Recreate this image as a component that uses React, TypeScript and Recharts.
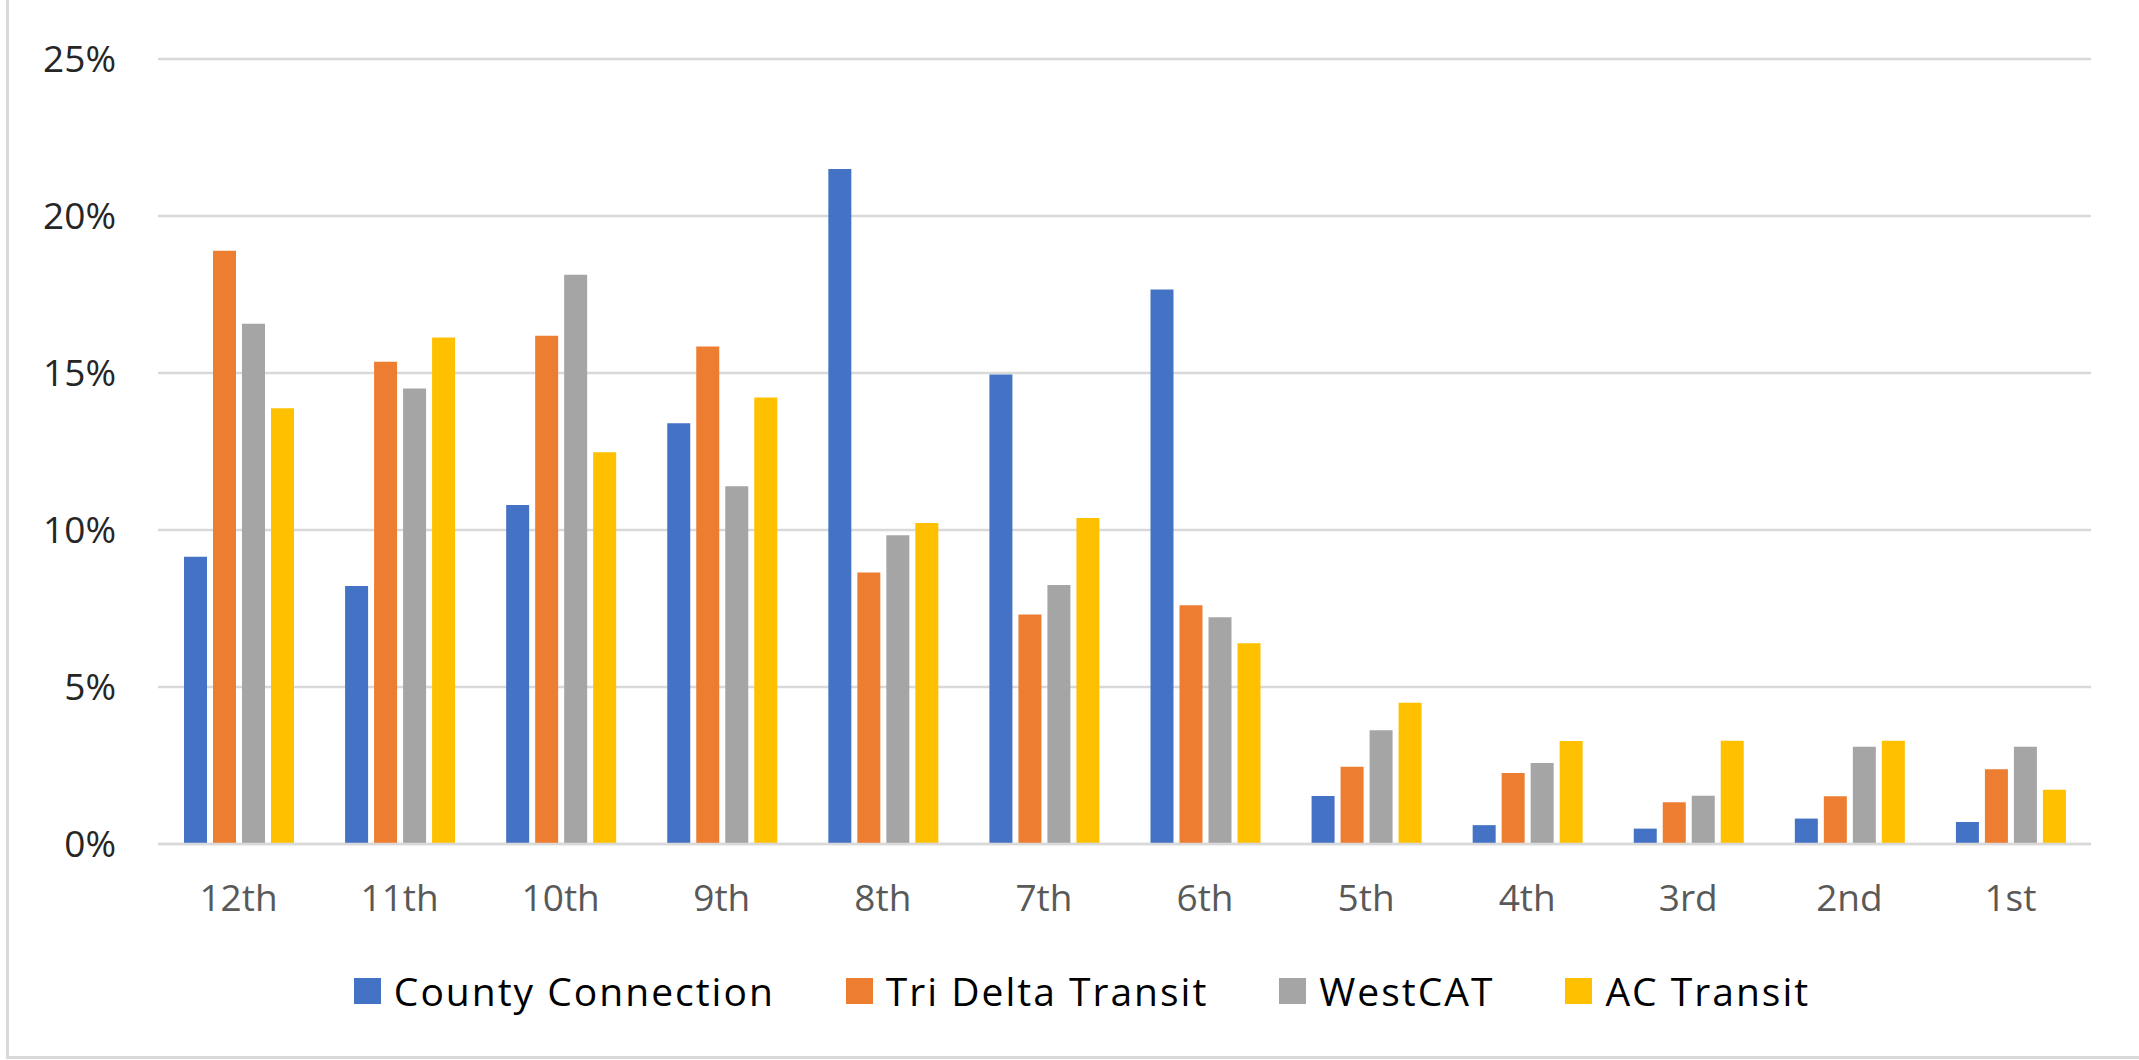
import React from 'react';
import { BarChart, Bar, XAxis, YAxis, CartesianGrid, Legend } from 'recharts';

const grades = ['12th', '11th', '10th', '9th', '8th', '7th', '6th', '5th', '4th', '3rd', '2nd', '1st'];

// share of riders by grade, in percent
const countyConnection = [9.15, 8.22, 10.8, 13.4, 21.5, 14.95, 17.66, 1.53, 0.6, 0.49, 0.81, 0.7];
const triDeltaTransit = [18.89, 15.36, 16.19, 15.84, 8.65, 7.31, 7.6, 2.46, 2.26, 1.33, 1.52, 2.38];
const westCAT = [16.57, 14.51, 18.13, 11.39, 9.83, 8.25, 7.22, 3.62, 2.58, 1.54, 3.1, 3.1];
const acTransit = [13.88, 16.13, 12.48, 14.22, 10.22, 10.38, 6.39, 4.5, 3.28, 3.29, 3.29, 1.73];

const yTicks = [0, 5, 10, 15, 20, 25];

const series = [
  { key: 'county', name: 'County Connection', color: '#4472C4', values: countyConnection },
  { key: 'triDelta', name: 'Tri Delta Transit', color: '#ED7D31', values: triDeltaTransit },
  { key: 'westcat', name: 'WestCAT', color: '#A5A5A5', values: westCAT },
  { key: 'ac', name: 'AC Transit', color: '#FFC000', values: acTransit },
];

const chartData = grades.map((grade, i) => {
  const row: Record<string, string | number> = { grade };
  series.forEach((s) => {
    row[s.key] = s.values[i];
  });
  return row;
});

const FONT = '"Open Sans", sans-serif';

const seriesOrder = (name: string) => series.findIndex((s) => s.name === name);

const LegendRow = (props: any) => {
  // recharts sorts legend items by name, keep the series order instead
  const items = [...(props.payload || [])].sort((a: any, b: any) => seriesOrder(a.value) - seriesOrder(b.value));
  return (
    <div
      style={{
        display: 'flex',
        justifyContent: 'center',
        alignItems: 'center',
        gap: 71,
        height: 40,
        fontFamily: FONT,
        fontSize: 39,
        letterSpacing: 2,
        lineHeight: '40px',
        color: '#000',
      }}
    >
      {items.map((entry: any) => (
        <div key={entry.value} style={{ display: 'flex', alignItems: 'center' }}>
          <span style={{ display: 'inline-block', width: 27, height: 26, background: entry.color, marginRight: 13 }} />
          <span>{entry.value}</span>
        </div>
      ))}
    </div>
  );
};

export default function App() {
  return (
    <div style={{ position: 'fixed', top: 0, left: 0, width: 2139, height: 1060, overflow: 'hidden', background: '#fff' }}>
      <div
        style={{
          position: 'absolute',
          left: 6,
          top: -4,
          width: 2133,
          height: 1063,
          boxSizing: 'border-box',
          borderLeft: '3px solid #d9d9d9',
          borderTop: '3px solid #d9d9d9',
          borderBottom: '3px solid #d9d9d9',
        }}
      />
      <div style={{ position: 'absolute', left: 0, top: 0 }}>
        <BarChart
          width={2139}
          height={1060}
          data={chartData}
          margin={{ top: 59, right: 48, left: 0, bottom: 156 }}
          barSize={23}
          barGap={6}
        >
          <CartesianGrid vertical={false} stroke="#d9d9d9" strokeWidth={2.5} />
          <XAxis
            dataKey="grade"
            height={60}
            tickLine={false}
            axisLine={{ stroke: '#d9d9d9', strokeWidth: 2.5 }}
            tickMargin={35}
            tick={{ fill: '#595959', fontSize: 37, fontFamily: FONT }}
          />
          <YAxis
            width={158}
            domain={[0, 25]}
            ticks={yTicks}
            tickFormatter={(v: number) => `${v}%`}
            axisLine={false}
            tickLine={false}
            tickMargin={36}
            tick={{ fill: '#262626', fontSize: 37, fontFamily: FONT }}
          />
          <Legend
            layout="horizontal"
            verticalAlign="middle"
            align="center"
            content={LegendRow}
            wrapperStyle={{ top: 971, left: 0, width: 2164 }}
          />
          {series.map((s) => (
            <Bar key={s.key} dataKey={s.key} name={s.name} fill={s.color} isAnimationActive={false} />
          ))}
        </BarChart>
      </div>
    </div>
  );
}
